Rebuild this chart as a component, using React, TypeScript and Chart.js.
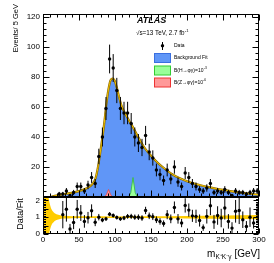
import React, { useEffect, useRef } from 'react';
import { Chart, registerables } from 'chart.js';
Chart.register(...registerables);

// ---------- data ----------
const binCenters = [22.5, 27.5, 32.5, 37.5, 42.5, 47.5, 52.5, 57.5, 62.5, 67.5, 72.5, 77.5, 82.5, 87.5, 92.5, 97.5, 102.5, 107.5, 112.5, 117.5, 122.5, 127.5, 132.5, 137.5, 142.5, 147.5, 152.5, 157.5, 162.5, 167.5, 172.5, 177.5, 182.5, 187.5, 192.5, 197.5, 202.5, 207.5, 212.5, 217.5, 222.5, 227.5, 232.5, 237.5, 242.5, 247.5, 252.5, 257.5, 262.5, 267.5, 272.5, 277.5, 282.5, 287.5, 292.5, 297.5];
const eventCounts = [2, 2, 4, 1, 3, 7, 7, 4, 8, 13, 9, 27, 40, 59, 92, 86, 71, 59, 56, 56, 49, 40, 36, 33, 41, 30, 26, 18, 15, 11, 18, 12, 20, 10, 7, 16, 13, 9, 7, 5, 4, 6, 9, 3, 4, 3, 5, 3, 1, 4, 3, 3, 2, 3, 4, 4];

const ratioCenters = [27.5, 32.5, 37.5, 42.5, 47.5, 52.5, 57.5, 62.5, 67.5, 72.5, 77.5, 82.5, 87.5, 92.5, 97.5, 102.5, 107.5, 112.5, 117.5, 122.5, 127.5, 132.5, 137.5, 142.5, 147.5, 152.5, 157.5, 162.5, 167.5, 172.5, 177.5, 182.5, 187.5, 192.5, 197.5, 202.5, 207.5, 212.5, 217.5, 222.5, 227.5, 232.5, 237.5, 242.5, 247.5, 252.5, 257.5, 262.5, 267.5, 272.5, 277.5, 282.5, 287.5, 292.5, 297.5];
const ratioValues = [1.15, 1.47, 0.3, 0.68, 1.47, 1.25, 0.75, 0.97, 1.38, 0.7, 1.0, 0.83, 0.9, 1.18, 1.1, 0.98, 0.9, 0.95, 1.05, 1.05, 1.0, 1.0, 0.95, 1.4, 1.08, 1.03, 0.85, 0.75, 0.62, 1.15, 0.9, 1.58, 0.9, 0.65, 1.7, 1.42, 1.08, 1.05, 0.8, 0.38, 1.05, 1.68, 0.72, 1.1, 0.95, 1.55, 0.75, 0.35, 1.35, 1.4, 0.85, 0.45, 1.0, 0.65, 1.25];

const fitMass = [10, 15, 20, 25, 30, 40, 50, 60, 65, 70, 73, 76, 79, 82, 85, 88, 91, 94, 97, 100, 103, 106, 109, 112, 116, 120, 125, 130, 140, 150, 160, 170, 180, 190, 200, 210, 220, 230, 240, 250, 260, 270, 280, 290, 300];
const fitEvents = [0, 0.6, 1.1, 1.6, 2.0, 2.8, 3.9, 5.6, 7.0, 9.5, 12.5, 19, 28, 38, 49, 62, 72, 78, 79, 77, 72, 66, 61, 57.5, 54, 50.5, 46.5, 42, 33.5, 27.5, 22.5, 18.5, 15, 12.5, 10.5, 9, 7.7, 6.6, 5.6, 4.7, 3.9, 3.2, 2.6, 2.0, 1.5];

const higgsMass = [119, 122, 125, 128, 131];
const higgsEvents = [0, 3, 13, 3, 0];
const zMass = [85, 88, 91, 94, 97];
const zEvents = [0, 1.5, 5, 1.5, 0];

const bandMass = [0, 5, 8, 10, 12, 15, 20, 25, 30, 40, 60, 100, 150, 200, 250, 300];
const bandUpper = [4, 3, 2.1, 1.7, 1.45, 1.28, 1.16, 1.1, 1.08, 1.06, 1.05, 1.045, 1.055, 1.075, 1.095, 1.13];
const bandLower = [-2, -1, -0.1, 0.3, 0.55, 0.72, 0.84, 0.9, 0.92, 0.94, 0.95, 0.955, 0.945, 0.925, 0.905, 0.87];

const massTicks = [0, 50, 100, 150, 200, 250, 300];
const eventTicks = [20, 40, 60, 80, 100, 120];
const ratioTicks = [0, 0.5, 1, 1.5, 2];

// ---------- styling ----------
const F = '"Liberation Sans", Arial, Helvetica, sans-serif';
const BLUE = 'rgb(96,150,247)';
const W = 274;
const H = 263;

const pts = (xs: number[], ys: number[]) => xs.map((x, i) => ({ x, y: ys[i] }));

const errorBarPlugin = {
  id: 'errbars',
  beforeDatasetDraw(chart: any, args: any) {
    const ds = chart.data.datasets[args.index];
    if (!ds.errors) return;
    const { ctx, chartArea: a } = chart;
    const xs = chart.scales.x, ys = chart.scales.y;
    ctx.save();
    ctx.beginPath();
    ctx.rect(a.left, a.top, a.right - a.left, a.bottom - a.top);
    ctx.clip();
    ctx.strokeStyle = '#000';
    ctx.lineWidth = 1;
    ds.data.forEach((p: any, i: number) => {
      const e = ds.errors[i];
      const px = xs.getPixelForValue(p.x);
      ctx.beginPath();
      ctx.moveTo(px, ys.getPixelForValue(p.y + e));
      ctx.lineTo(px, ys.getPixelForValue(p.y - e));
      ctx.stroke();
    });
    ctx.restore();
  },
};

const framePlugin = {
  id: 'frame',
  afterDatasetsDraw(chart: any, _args: any, o: any) {
    const { ctx, chartArea: a } = chart;
    const xs = chart.scales.x, ys = chart.scales.y;
    ctx.save();
    ctx.strokeStyle = '#000';
    ctx.lineWidth = 1;
    const L = Math.round(a.left) + 0.5, R = Math.round(a.right) - 0.5;
    const T = Math.round(a.top) + 0.5, B = Math.round(a.bottom) - 0.5;
    ctx.strokeRect(L, T, R - L, B - T);
    ctx.beginPath();
    const nx = Math.round((xs.max - xs.min) / o.xMinor);
    for (let k = 0; k <= nx; k++) {
      const v = xs.min + k * o.xMinor;
      const major = Math.abs(v / o.xMajor - Math.round(v / o.xMajor)) < 1e-6;
      const len = major ? o.xMaj : o.xMin;
      const px = Math.round(xs.getPixelForValue(v)) + 0.5;
      ctx.moveTo(px, B); ctx.lineTo(px, B - len);
      if (o.xTop) { ctx.moveTo(px, T); ctx.lineTo(px, T + len); }
    }
    const ny = Math.floor((ys.max - ys.min) / o.yMinor + 1e-6);
    for (let k = 0; k <= ny; k++) {
      const v = ys.min + k * o.yMinor;
      const major = Math.abs(v / o.yMajor - Math.round(v / o.yMajor)) < 1e-6;
      const len = major ? o.yMaj : o.yMin;
      const py = Math.round(ys.getPixelForValue(v)) + 0.5;
      ctx.moveTo(L, py); ctx.lineTo(L + len, py);
      ctx.moveTo(R, py); ctx.lineTo(R - len, py);
    }
    ctx.stroke();
    ctx.restore();
  },
};

function textWithSup(ctx: any, base: string, sup: string, x: number, y: number, size: number) {
  ctx.font = `${size}px ${F}`;
  ctx.textAlign = 'left';
  ctx.textBaseline = 'middle';
  ctx.fillText(base, x, y);
  const w = ctx.measureText(base).width;
  ctx.font = `${size * 0.65}px ${F}`;
  ctx.fillText(sup, x + w + 0.3, y - size * 0.38);
}

const topTextPlugin = {
  id: 'topText',
  afterDraw(chart: any) {
    const ctx = chart.ctx;
    ctx.save();
    ctx.fillStyle = '#000';
    // y title
    ctx.save();
    ctx.translate(15.5, 4);
    ctx.rotate(-Math.PI / 2);
    ctx.font = `7.5px ${F}`;
    ctx.textAlign = 'right';
    ctx.textBaseline = 'middle';
    ctx.fillText('Events/ 5 GeV', 0, 0);
    ctx.restore();
    // ATLAS
    ctx.font = `italic bold 9px ${F}`;
    ctx.textAlign = 'left';
    ctx.textBaseline = 'middle';
    ctx.fillText('ATLAS', 137, 20.5);
    // sqrt s
    textWithSup(ctx, '√s=13 TeV, 2.7 fb', '-1', 136, 33, 6.3);
    // legend: data
    const lx = 162.5;
    ctx.strokeStyle = '#000';
    ctx.lineWidth = 1;
    ctx.beginPath();
    ctx.moveTo(lx, 42); ctx.lineTo(lx, 50);
    ctx.stroke();
    ctx.beginPath();
    ctx.arc(lx, 45.7, 1.7, 0, Math.PI * 2);
    ctx.fill();
    ctx.font = `5px ${F}`;
    ctx.textAlign = 'left';
    ctx.textBaseline = 'middle';
    ctx.fillText('Data', 174, 45.7);
    // boxes
    const boxes = [
      { y: 53.5, fill: BLUE, stroke: '#3a6fe0', label: 'Background Fit', sup: '' },
      { y: 66, fill: '#99ff99', stroke: '#33cc33', label: 'B(H→φγ)=10', sup: '-3' },
      { y: 78, fill: '#ff9999', stroke: '#ee3333', label: 'B(Z→φγ)=10', sup: '-6' },
    ];
    boxes.forEach((b) => {
      ctx.fillStyle = b.fill;
      ctx.fillRect(154.5, b.y, 16, 9);
      ctx.strokeStyle = b.stroke;
      ctx.strokeRect(154.5, b.y, 16, 9);
      ctx.fillStyle = '#000';
      if (b.sup) textWithSup(ctx, b.label, b.sup, 174, b.y + 4.5, 5);
      else {
        ctx.font = `5px ${F}`;
        ctx.fillText(b.label, 174, b.y + 4.5);
      }
    });
    ctx.restore();
  },
};

const bottomTextPlugin = {
  id: 'bottomText',
  afterDraw(chart: any) {
    const ctx = chart.ctx;
    ctx.save();
    ctx.fillStyle = '#000';
    ctx.save();
    ctx.translate(20.5, 214);
    ctx.rotate(-Math.PI / 2);
    ctx.font = `9px ${F}`;
    ctx.textAlign = 'center';
    ctx.textBaseline = 'middle';
    ctx.fillText('Data/Fit', 0, 0);
    ctx.restore();
    // x title
    const big = `10px ${F}`, small = `6.5px ${F}`;
    ctx.textBaseline = 'alphabetic';
    ctx.textAlign = 'left';
    ctx.font = big; const w1 = ctx.measureText('m').width;
    ctx.font = small; const w2 = ctx.measureText('K⁺K⁻γ').width;
    ctx.font = big; const w3 = ctx.measureText(' [GeV]').width;
    let x = 260 - (w1 + w2 + w3 + 0.5);
    const y = 256.5;
    ctx.font = big; ctx.fillText('m', x, y); x += w1 + 0.3;
    ctx.font = small; ctx.fillText('K⁺K⁻γ', x, y + 2.5); x += w2 + 0.2;
    ctx.font = big; ctx.fillText(' [GeV]', x, y);
    ctx.restore();
  },
};

function yAxisCommon(ticksArr: number[]) {
  return {
    afterFit(s: any) { s.width = 43; },
    afterBuildTicks(s: any) { s.ticks = ticksArr.map((v) => ({ value: v })); },
    grid: { display: false, drawTicks: false },
    border: { display: false },
    ticks: { font: { family: F, size: 8 }, color: '#000', padding: 3, callback: (v: any) => String(v) },
  };
}

export default function App() {
  const topRef = useRef<HTMLCanvasElement>(null);
  const botRef = useRef<HTMLCanvasElement>(null);

  useEffect(() => {
    document.body.style.margin = '0';
    const fitPts = pts(fitMass, fitEvents);
    const top = new Chart(topRef.current as HTMLCanvasElement, {
      type: 'line',
      data: {
        datasets: [
          { label: 'Data', data: pts(binCenters, eventCounts), showLine: false, pointRadius: 1.7, pointBackgroundColor: '#000', pointBorderWidth: 0, order: 0, errors: eventCounts.map((n) => Math.sqrt(n)) } as any,
          { label: 'fitLight', data: fitPts, borderColor: '#f5c400', borderWidth: 1.0, pointRadius: 0, fill: false, cubicInterpolationMode: 'monotone', order: 1 },
          { label: 'H', data: pts(higgsMass, higgsEvents), borderColor: '#33bb33', borderWidth: 0.8, backgroundColor: '#99ff99', fill: 'origin', pointRadius: 0, tension: 0, order: 2 },
          { label: 'Z', data: pts(zMass, zEvents), borderColor: '#ee4444', borderWidth: 0.8, backgroundColor: '#ff9999', fill: 'origin', pointRadius: 0, tension: 0, order: 3 },
          { label: 'fit', data: fitPts, borderColor: '#8a6800', borderWidth: 2.2, backgroundColor: BLUE, fill: 'origin', pointRadius: 0, cubicInterpolationMode: 'monotone', order: 4 },
        ],
      },
      options: {
        responsive: false,
        animation: false,
        devicePixelRatio: 1,
        events: [],
        layout: { padding: { left: 0, right: 15, top: 14, bottom: 66 } },
        plugins: {
          legend: { display: false },
          tooltip: { enabled: false },
          frame: { xMinor: 10, xMajor: 50, xMaj: 6, xMin: 3, xTop: true, yMinor: 4, yMajor: 20, yMaj: 6, yMin: 3 },
        } as any,
        scales: {
          x: { type: 'linear', min: 0, max: 300, display: false },
          y: { type: 'linear', min: 0, max: 122, ...yAxisCommon(eventTicks) } as any,
        },
      },
      plugins: [errorBarPlugin, framePlugin, topTextPlugin],
    });

    const ratioErrors = ratioCenters.map((m, i) => ratioValues[i] / Math.sqrt(eventCounts[binCenters.indexOf(m)]));
    const bot = new Chart(botRef.current as HTMLCanvasElement, {
      type: 'line',
      data: {
        datasets: [
          { label: 'Ratio', data: pts(ratioCenters, ratioValues), showLine: false, pointRadius: 1.7, pointBackgroundColor: '#000', pointBorderWidth: 0, order: 0, errors: ratioErrors } as any,
          { label: 'bandUp', data: pts(bandMass, bandUpper), fill: '+1', backgroundColor: '#ffcc00', borderWidth: 0, pointRadius: 0, cubicInterpolationMode: 'monotone', order: 1 },
          { label: 'bandLo', data: pts(bandMass, bandLower), fill: false, borderWidth: 0, pointRadius: 0, cubicInterpolationMode: 'monotone', order: 2 },
        ],
      },
      options: {
        responsive: false,
        animation: false,
        devicePixelRatio: 1,
        events: [],
        layout: { padding: { left: 0, right: 15, top: 197, bottom: 0 } },
        plugins: {
          legend: { display: false },
          tooltip: { enabled: false },
          frame: { xMinor: 10, xMajor: 50, xMaj: 5, xMin: 2.5, xTop: false, yMinor: 0.1, yMajor: 0.5, yMaj: 5, yMin: 2.5 },
        } as any,
        scales: {
          x: {
            type: 'linear', min: 0, max: 300,
            afterFit(s: any) { s.height = 29; },
            afterBuildTicks(s: any) { s.ticks = massTicks.map((v) => ({ value: v })); },
            grid: { display: false, drawTicks: false },
            border: { display: false },
            ticks: { font: { family: F, size: 8 }, color: '#000', padding: 1, maxRotation: 0, callback: (v: any) => String(v) },
          } as any,
          y: { type: 'linear', min: 0, max: 2.2, ...yAxisCommon(ratioTicks) } as any,
        },
      },
      plugins: [errorBarPlugin, framePlugin, bottomTextPlugin],
    });
    return () => { top.destroy(); bot.destroy(); };
  }, []);

  return (
    <div style={{ position: 'relative', width: W, height: H, background: '#fff' }}>
      <canvas ref={topRef} width={W} height={H} style={{ position: 'absolute', left: 0, top: 0 }} />
      <canvas ref={botRef} width={W} height={H} style={{ position: 'absolute', left: 0, top: 0 }} />
    </div>
  );
}
